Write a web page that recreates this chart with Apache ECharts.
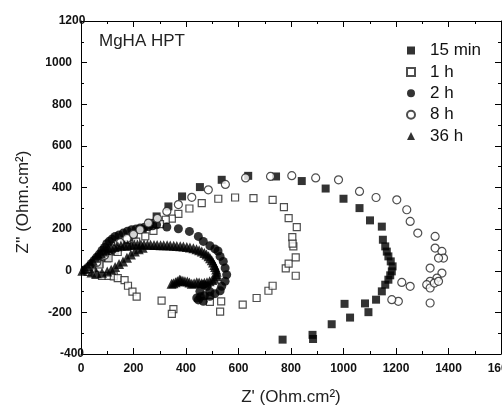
<!DOCTYPE html>
<html>
<head>
<meta charset="utf-8">
<script src="https://cdn.jsdelivr.net/npm/echarts@6/dist/echarts.min.js"></script>
<style>html,body{margin:0;padding:0;background:#fff;}#c{width:502px;height:408px;}</style>
</head>
<body>
<div id="c"></div>
<script>
// Series names
const seriesNames = ['15 min', '1 h', '2 h', '8 h', '36 h'];

// Z' , Z'' (Ohm.cm2) values
const s15min = [[20,2],[45,12],[70,32],[100,60],[130,92],[165,128],[200,162],[235,198],[262,230],[288,261],[333,309],[385,357],[453,402],[536,437],[637,456],[743,453],[841,431],[932,395],[1000,346],[1061,301],[1101,242],[1146,212],[1150,149],[1159,117],[1165,92],[1171,69],[1180,45],[1187,21],[1184,-3],[1178,-22],[1171,-43],[1159,-67],[1146,-99],[1124,-139],[1082,-157],[1004,-159],[1095,-199],[1025,-225],[955,-257],[882,-308],[884,-328],[768,-331]];
const s1h = [[25,-5],[55,-20],[80,-25],[105,-25],[125,-27],[140,-35],[166,-45],[179,-72],[196,-100],[212,-124],[307,-144],[352,-184],[346,-207],[491,-150],[534,-147],[530,-196],[616,-163],[669,-131],[714,-96],[730,-72],[780,11],[791,34],[818,-24],[818,64],[809,117],[805,162],[806,130],[822,210],[791,253],[773,306],[730,341],[657,349],[587,352],[523,346],[460,325],[413,299],[371,273],[346,250],[323,245],[301,224],[276,192],[245,165],[210,140],[175,115],[140,90],[105,60],[70,30],[40,10]];
const s2h = [[15,5],[30,20],[40,35],[50,50],[60,65],[70,80],[80,98],[90,112],[98,130],[108,142],[118,152],[130,165],[145,172],[161,181],[177,190],[193,197],[210,201],[225,205],[242,209],[258,212],[273,216],[288,221],[327,210],[371,202],[413,189],[447,165],[466,141],[491,120],[510,105],[522,95],[530,69],[542,45],[549,13],[555,-19],[549,-51],[536,-75],[530,-96],[510,-110],[491,-123],[466,-147],[447,-140],[441,-131],[453,-99],[466,-67],[479,-75],[491,-100],[470,-120],[455,-125]];
const s8h = [[30,10],[60,40],[90,75],[120,105],[150,135],[175,155],[200,175],[225,197],[257,229],[291,252],[327,285],[371,318],[422,353],[485,389],[550,415],[627,446],[722,453],[803,457],[894,446],[981,437],[1061,381],[1124,352],[1203,341],[1241,293],[1254,237],[1283,181],[1349,165],[1349,109],[1375,93],[1381,61],[1362,61],[1330,13],[1375,-11],[1356,-35],[1330,-51],[1317,-67],[1330,-83],[1346,-59],[1362,-51],[1330,-155],[1254,-75],[1222,-56],[1209,-147],[1184,-139]];
const s36h = [[5,0],[15,10],[25,22],[35,35],[45,48],[55,62],[65,75],[75,85],[85,93],[95,100],[105,106],[115,110],[128,114],[140,118],[152,120],[165,122],[178,124],[190,125],[203,126],[215,126],[228,126],[240,126],[253,125],[265,125],[278,124],[290,124],[303,123],[315,123],[328,122],[340,121],[353,120],[365,119],[378,118],[390,116],[403,114],[415,112],[428,108],[440,103],[450,98],[460,92],[470,85],[478,78],[486,70],[492,60],[498,50],[503,40],[508,28],[511,18],[515,6],[517,-5],[517,-17],[517,-27],[508,-38],[500,-45],[490,-50],[480,-55],[470,-58],[460,-60],[450,-57],[441,-55],[431,-60],[422,-62],[413,-56],[405,-52],[396,-50],[388,-48],[380,-44],[375,-43],[367,-50],[360,-55],[352,-60],[345,-62],
  [40,-8],[60,-12],[80,-10],[100,-4],[115,5],[130,18],[145,32],[160,45],[175,62],[190,78],[205,92],[220,103],[235,110]];

// Axis ranges / ticks
const xMin = 0, xMax = 1600, xStep = 200;
const yMin = -400, yMax = 1200, yStep = 200;

const chart = echarts.init(document.getElementById('c'), null, {renderer: 'canvas'});
const FONT = '"Liberation Sans", Arial, sans-serif';

function axisBase(extra) {
  return Object.assign({
    axisLine: {show: true, onZero: false, lineStyle: {color: '#000', width: 1}},
    axisTick: {show: true, inside: true, length: 6, lineStyle: {color: '#000'}},
    minorTick: {show: true, splitNumber: 2, length: 3, lineStyle: {color: '#000'}},
    splitLine: {show: false},
    minorSplitLine: {show: false}
  }, extra);
}

const labelStyle = {color: '#111', fontSize: 12, fontWeight: 'bold', fontFamily: FONT,
  alignMinLabel: 'center', alignMaxLabel: 'center',
  formatter: function (v) { return String(v); }};

const option = {
  animation: false,
  backgroundColor: '#fff',
  grid: {left: 81, right: 1, top: 21, bottom: 54, containLabel: false, outerBoundsMode: 'none'},
  xAxis: [
    axisBase({type: 'value', position: 'bottom', min: xMin, max: xMax, interval: xStep,
      axisLabel: Object.assign({margin: 9}, labelStyle)}),
    axisBase({type: 'value', position: 'top', min: xMin, max: xMax, interval: xStep,
      axisLabel: {show: false}})
  ],
  yAxis: [
    axisBase({type: 'value', position: 'left', min: yMin, max: yMax, interval: yStep,
      axisLabel: Object.assign({margin: 9}, labelStyle, {alignMinLabel: 'middle', alignMaxLabel: 'middle'})}),
    axisBase({type: 'value', position: 'right', min: yMin, max: yMax, interval: yStep,
      axisLabel: {show: false}})
  ],
  legend: {
    orient: 'vertical',
    left: 401,
    top: 37,
    itemWidth: 8,
    itemHeight: 8,
    itemGap: 4.4,
    textStyle: {color: '#111', fontSize: 17, lineHeight: 17, fontFamily: FONT, padding: [0, 0, 0, 10]},
    data: seriesNames
  },
  graphic: [
    {type: 'text', left: 99, top: 33, style: {text: 'MgHA HPT', font: '17px ' + FONT, fill: '#222'}},
    {type: 'text', x: 291, y: 397, style: {text: "Z' (Ohm.cm²)", font: '17px ' + FONT, fill: '#222', textAlign: 'center', textVerticalAlign: 'middle'}},
    {type: 'text', x: 23, y: 202, rotation: Math.PI / 2, style: {text: "Z'' (Ohm.cm²)", font: '17px ' + FONT, fill: '#222', textAlign: 'center', textVerticalAlign: 'middle'}}
  ],
  series: [
    {name: seriesNames[0], type: 'scatter', data: s15min, symbol: 'rect', symbolSize: 8,
      itemStyle: {color: '#000'}, z: 2},
    {name: seriesNames[1], type: 'scatter', data: s1h, symbol: 'rect', symbolSize: 7,
      itemStyle: {color: '#fff', borderColor: '#222', borderWidth: 1.2}, z: 3},
    {name: seriesNames[2], type: 'scatter', data: s2h, symbol: 'circle', symbolSize: 9,
      itemStyle: {color: '#000'}, z: 4},
    {name: seriesNames[3], type: 'scatter', data: s8h, symbol: 'circle', symbolSize: 8,
      itemStyle: {color: '#fff', borderColor: '#222', borderWidth: 1.2}, z: 5},
    {name: seriesNames[4], type: 'scatter', data: s36h, symbol: 'triangle', symbolSize: 10,
      itemStyle: {color: '#000'}, z: 6}
  ]
};
chart.setOption(option);
</script>
</body>
</html>
